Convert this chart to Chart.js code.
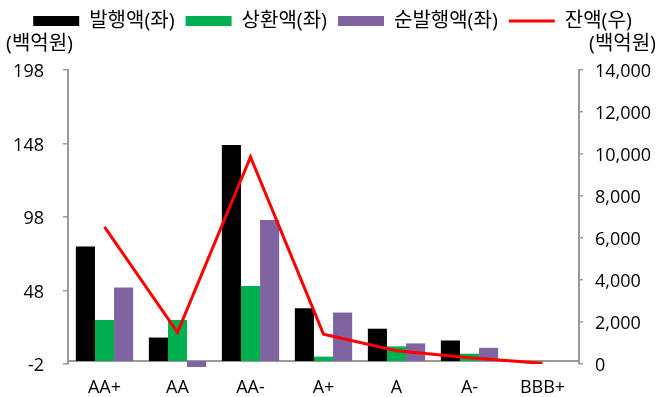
<!DOCTYPE html>
<html>
<head>
<meta charset="utf-8">
<script src="https://cdn.jsdelivr.net/npm/chart.js@4/dist/chart.umd.min.js"></script>
<style>
  html, body { margin: 0; padding: 0; background: #fff; }
  #wrap { width: 657px; height: 397px; position: relative; }
</style>
</head>
<body>
<div id="wrap"><canvas id="c"></canvas></div>
<script>
// ---- data ----
const categories = ['AA+', 'AA', 'AA-', 'A+', 'A', 'A-', 'BBB+'];
const issueLabel = '발행액(좌)';
const redeemLabel = '상환액(좌)';
const netLabel = '순발행액(좌)';
const balanceLabel = '잔액(우)';
const unitText = '(백억원)';
const issueValues  = [78, 16, 147, 36, 22, 14, 0];
const redeemValues = [28, 28, 51, 3, 10, 5, 0];
const netValues    = [50, -12, 96, 33, 12, 9, 0];
const balanceValues = [6530, 1510, 9860, 1420, 630, 300, 30];
const leftTicks = { min: -2, max: 198, step: 50 };
const rightTicks = { min: 0, max: 14000, step: 2000 };

const FONT = "'Open Sans', 'Noto Sans CJK KR', sans-serif";
const AXIS = '#9a9a9a';

const legendSpacer = {
  id: 'legendSpacer',
  beforeLayout(chart) {
    const lg = chart.legend;
    if (lg && !lg._patched) {
      const fit = lg.fit;
      lg.fit = function () { fit.call(this); this.height = 70; };
      lg._patched = true;
    }
  }
};

const unitLabels = {
  id: 'unitLabels',
  afterDraw(chart) {
    const ctx = chart.ctx;
    ctx.save();
    ctx.font = '20px ' + FONT;
    ctx.fillStyle = '#000';
    ctx.textBaseline = 'middle';
    ctx.textAlign = 'left';
    ctx.fillText(unitText, 6, 44);
    ctx.textAlign = 'right';
    ctx.fillText(unitText, 656, 44);
    ctx.restore();
  }
};

Chart.defaults.font.family = FONT;
Chart.defaults.font.size = 18;
Chart.defaults.color = '#000';

const barClip = { left: false, top: false, right: false, bottom: 3 };

new Chart(document.getElementById('c'), {
  type: 'bar',
  data: {
    labels: categories,
    datasets: [
      { label: issueLabel, data: issueValues, backgroundColor: '#000000', borderWidth: 0,
        yAxisID: 'y', order: 1, pointStyle: 'rect', clip: barClip },
      { label: redeemLabel, data: redeemValues, backgroundColor: '#00B050', borderWidth: 0,
        yAxisID: 'y', order: 1, pointStyle: 'rect', clip: barClip },
      { label: netLabel, data: netValues, backgroundColor: '#8064A2', borderWidth: 0,
        yAxisID: 'y', order: 1, pointStyle: 'rect', clip: barClip },
      { type: 'line', label: balanceLabel, data: balanceValues, borderColor: '#FF0000',
        backgroundColor: '#FF0000', borderWidth: 3, pointRadius: 0, tension: 0,
        yAxisID: 'y2', order: 0, pointStyle: 'line', fill: false }
    ]
  },
  options: {
    responsive: true,
    maintainAspectRatio: false,
    animation: false,
    layout: { padding: { left: 8, right: 0, top: 0, bottom: 33 } },
    datasets: { bar: { categoryPercentage: 0.785, barPercentage: 1.0 } },
    plugins: {
      tooltip: { enabled: false },
      legend: {
        position: 'top',
        align: 'center',
        labels: {
          usePointStyle: true,
          pointStyleWidth: 46,
          boxHeight: 10,
          padding: 11,
          font: { size: 20 },
          color: '#000',
          sort: (a, b) => a.datasetIndex - b.datasetIndex
        }
      }
    },
    scales: {
      x: {
        type: 'category',
        position: { y: 0 },
        grid: { display: true, drawOnChartArea: false, drawTicks: false, color: 'transparent' },
        border: { display: true, color: AXIS, width: 2 },
        ticks: { padding: 16, font: { size: 18 }, color: '#000', maxRotation: 0, autoSkip: false }
      },
      y: {
        position: 'left',
        min: leftTicks.min, max: leftTicks.max,
        afterFit: (s) => { s.width = 60; },
        ticks: { stepSize: leftTicks.step, padding: 19, labelOffset: 2, font: { size: 18 }, color: '#000' },
        grid: { drawOnChartArea: false, drawTicks: true, tickLength: 5, color: AXIS, lineWidth: 1.5 },
        border: { display: true, color: AXIS, width: 2 }
      },
      y2: {
        position: 'right',
        min: rightTicks.min, max: rightTicks.max,
        afterFit: (s) => { s.width = 78; },
        ticks: { stepSize: rightTicks.step, padding: 12, labelOffset: 2, font: { size: 18 }, color: '#000',
          callback: (v) => Number(v).toLocaleString('en-US') },
        grid: { drawOnChartArea: false, drawTicks: true, tickLength: 4, color: AXIS, lineWidth: 1.5 },
        border: { display: true, color: AXIS, width: 2 }
      }
    }
  },
  plugins: [legendSpacer, unitLabels]
});
</script>
</body>
</html>
